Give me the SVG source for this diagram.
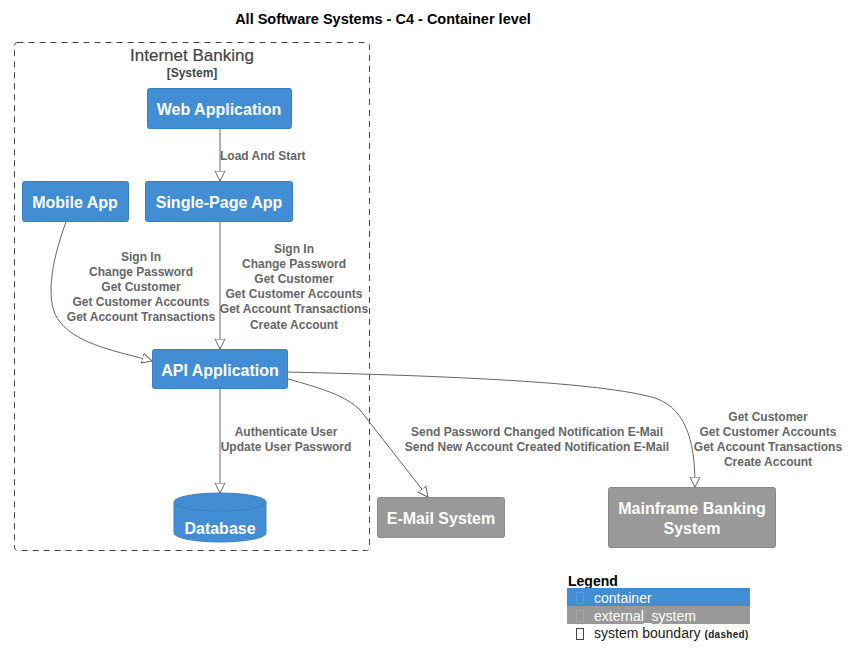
<svg xmlns="http://www.w3.org/2000/svg" width="849" height="667" viewBox="0 0 849 667">
<defs>
<style>
text{font-family:"Liberation Sans",Arial,sans-serif}
.node{fill:#438DD5;stroke:#3C7FC0;stroke-width:1}
.ext{fill:#999999;stroke:#8A8A8A;stroke-width:1}
.nt{fill:#FFFFFF;font-size:16px;font-weight:bold;text-anchor:middle}
.lbl{fill:#666666;font-size:12px;font-weight:bold;text-anchor:middle}
.conn{fill:none;stroke:#666666;stroke-width:1;marker-end:url(#arr)}
</style>
<marker id="arr" markerWidth="12" markerHeight="12" viewBox="0 0 12 12" refX="10" refY="6" orient="auto" markerUnits="userSpaceOnUse">
<path d="M0,1 L10,6 L0,11 Z" fill="#FFFFFF" stroke="#666666" stroke-width="1"/>
</marker>
</defs>
<rect width="849" height="667" fill="#FFFFFF"/>
<text x="383" y="24" font-size="14.5" font-weight="bold" text-anchor="middle" fill="#000000">All Software Systems - C4 - Container level</text>

<g id="boundary">
<rect x="14.5" y="42.5" width="355" height="508" rx="3" fill="none" stroke="#444444" stroke-width="1" stroke-dasharray="6,5"/>
<text x="192" y="61" font-size="17" text-anchor="middle" fill="#444444" stroke="#444444" stroke-width="0.2">Internet Banking</text>
<text x="192" y="77" font-size="12" font-weight="bold" text-anchor="middle" fill="#444444">[System]</text>
</g>

<g id="connectors">
<path class="conn" d="M220,129 L220,181"/>
<text class="lbl" x="220" y="160" style="text-anchor:start">Load And Start</text>
<path class="conn" d="M220,222 L220,349"/>
<text class="lbl" x="294" y="253">Sign In</text>
<text class="lbl" x="294" y="268">Change Password</text>
<text class="lbl" x="294" y="283">Get Customer</text>
<text class="lbl" x="294" y="298">Get Customer Accounts</text>
<text class="lbl" x="294" y="313">Get Account Transactions</text>
<text class="lbl" x="294" y="329">Create Account</text>
<path class="conn" d="M66,222 C50,265 45,305 60,322 C78,345 120,352 152,361"/>
<text class="lbl" x="141" y="261">Sign In</text>
<text class="lbl" x="141" y="276">Change Password</text>
<text class="lbl" x="141" y="291">Get Customer</text>
<text class="lbl" x="141" y="306">Get Customer Accounts</text>
<text class="lbl" x="141" y="321">Get Account Transactions</text>
<path class="conn" d="M220,389 L220,493"/>
<text class="lbl" x="286" y="436">Authenticate User</text>
<text class="lbl" x="286" y="451">Update User Password</text>
<path class="conn" d="M288,379 C320,388 345,395 360,410 L428,497"/>
<text class="lbl" x="537" y="436">Send Password Changed Notification E-Mail</text>
<text class="lbl" x="537" y="451">Send New Account Created Notification E-Mail</text>
<path class="conn" d="M288,372 C450,376 600,382 655,398 C690,410 695,450 695,487"/>
<text class="lbl" x="768" y="421">Get Customer</text>
<text class="lbl" x="768" y="436">Get Customer Accounts</text>
<text class="lbl" x="768" y="451">Get Account Transactions</text>
<text class="lbl" x="768" y="466">Create Account</text>
</g>

<g id="web-application">
<rect class="node" x="147.5" y="88.5" width="144" height="40" rx="2"/>
<text class="nt" x="219" y="115">Web Application</text>
</g>
<g id="mobile-app">
<rect class="node" x="22.5" y="181.5" width="106" height="40" rx="2"/>
<text class="nt" x="75" y="208">Mobile App</text>
</g>
<g id="single-page-app">
<rect class="node" x="145.5" y="181.5" width="147" height="40" rx="2"/>
<text class="nt" x="219" y="208">Single-Page App</text>
</g>
<g id="api-application">
<rect class="node" x="152.5" y="349.5" width="135" height="39" rx="2"/>
<text class="nt" x="220" y="376">API Application</text>
</g>
<g id="database">
<path class="node" d="M174,502 A46,9 0 0 1 266,502 L266,533 A46,9 0 0 1 174,533 Z"/>
<path d="M174,502 A46,9 0 0 0 266,502" fill="none" stroke="#3C7FC0" stroke-width="1"/>
<text class="nt" x="220" y="534">Database</text>
</g>
<g id="email-system">
<rect class="ext" x="377.5" y="497.5" width="127" height="40" rx="2"/>
<text class="nt" x="441" y="524">E-Mail System</text>
</g>
<g id="mainframe">
<rect class="ext" x="608.5" y="487.5" width="167" height="60" rx="2"/>
<text class="nt" x="692" y="514">Mainframe Banking</text>
<text class="nt" x="692" y="534">System</text>
</g>

<g id="legend">
<text x="568" y="586" font-size="14" font-weight="bold" fill="#000000">Legend</text>
<rect x="567" y="588" width="183" height="18" fill="#438DD5"/>
<rect x="576.5" y="592.5" width="7" height="11" fill="none" stroke="#5C9CDB" stroke-width="1"/>
<text x="594" y="603" font-size="14" fill="#FFFFFF">container</text>
<rect x="567" y="606" width="183" height="18" fill="#999999"/>
<rect x="576.5" y="610.5" width="7" height="11" fill="none" stroke="#A8A8A8" stroke-width="1"/>
<text x="594" y="621" font-size="14" fill="#FFFFFF">external_system</text>
<rect x="576.5" y="628.5" width="7" height="11" fill="none" stroke="#444444" stroke-width="1"/>
<text x="594" y="638" font-size="14" fill="#222222">system boundary <tspan font-size="10" font-weight="bold" letter-spacing="0.3">(dashed)</tspan></text>
</g>
</svg>
